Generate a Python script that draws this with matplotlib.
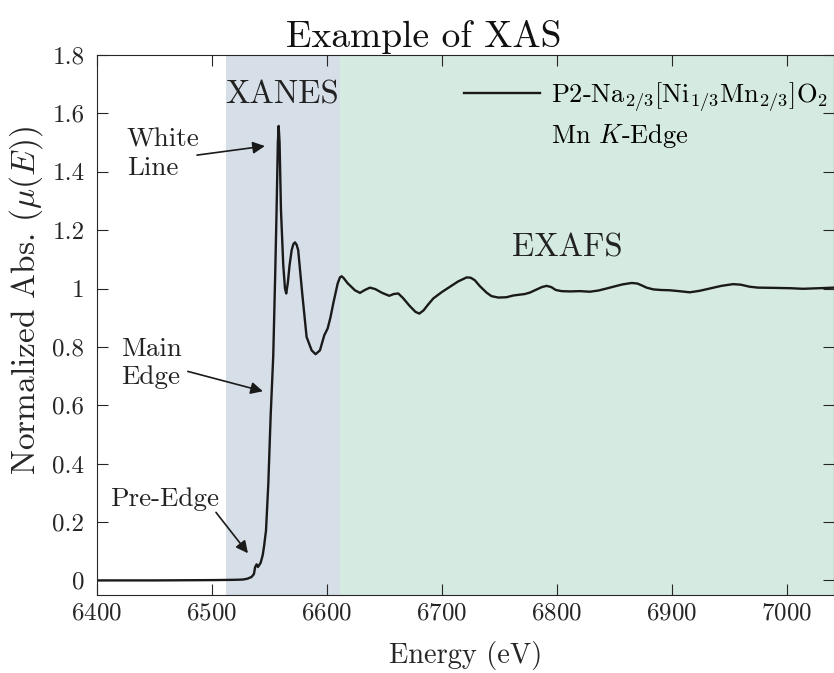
import matplotlib
matplotlib.use('Agg')
import matplotlib.pyplot as plt
from matplotlib.ticker import FuncFormatter, MultipleLocator

plt.rcParams['font.family'] = 'cmr10'
plt.rcParams['mathtext.fontset'] = 'cm'
plt.rcParams['axes.formatter.use_mathtext'] = True

# Mn K-edge spectrum, P2-Na2/3[Ni1/3Mn2/3]O2
energy = [6400, 6450, 6500, 6520, 6527, 6531, 6534.5, 6536.5, 6537.5, 6538.8,
          6540, 6541, 6542.3, 6544.1, 6545.2, 6547, 6549, 6551, 6553.3, 6555,
          6556.2, 6557.3, 6558.0, 6558.8, 6560, 6562, 6563.5, 6564.6, 6566, 6567.5,
          6569.3, 6570.8, 6572.2, 6573.6, 6575, 6578.5, 6582.3, 6586.7, 6590.1, 6593.9,
          6597.7, 6600.6, 6603, 6605.5, 6609.3, 6611.3, 6612.7, 6614.5, 6618, 6624.3,
          6628.7, 6633, 6637.4, 6642, 6648, 6654.2, 6658, 6662, 6666, 6672,
          6677, 6680.3, 6684, 6688, 6692.5, 6700, 6707, 6714, 6721.5, 6725,
          6728.7, 6733, 6738.8, 6743, 6749, 6756, 6762, 6767.8, 6772, 6776.5,
          6782, 6787, 6791, 6795, 6799, 6804, 6811.3, 6820, 6828.7, 6836,
          6843.2, 6850, 6857, 6865, 6870, 6873.6, 6878, 6883.8, 6890, 6898,
          6906, 6915.6, 6924, 6933, 6943, 6953.3, 6960, 6967.8, 6975, 6991,
          7003, 7014, 7028, 7041, 7050]
mu = [0.0, 0.0, 0.001, 0.002, 0.003, 0.006, 0.012, 0.022, 0.045, 0.055,
      0.046, 0.052, 0.060, 0.086, 0.114, 0.171, 0.331, 0.560, 0.770, 1.050,
      1.270, 1.500, 1.557, 1.500, 1.270, 1.080, 1.000, 0.983, 1.020, 1.080,
      1.131, 1.152, 1.158, 1.150, 1.131, 0.983, 0.834, 0.788, 0.775, 0.788,
      0.840, 0.863, 0.900, 0.949, 1.017, 1.038, 1.042, 1.036, 1.018, 0.994,
      0.985, 0.995, 1.003, 0.998, 0.985, 0.975, 0.981, 0.983, 0.968, 0.940,
      0.920, 0.914, 0.925, 0.945, 0.966, 0.988, 1.006, 1.024, 1.038, 1.037,
      1.028, 1.008, 0.986, 0.974, 0.969, 0.970, 0.976, 0.979, 0.981, 0.986,
      0.996, 1.005, 1.009, 1.005, 0.995, 0.991, 0.990, 0.991, 0.989, 0.993,
      1.000, 1.007, 1.014, 1.019, 1.017, 1.011, 1.003, 0.997, 0.995, 0.994,
      0.991, 0.987, 0.992, 1.000, 1.009, 1.015, 1.013, 1.006, 1.003, 1.002,
      1.001, 0.999, 1.001, 1.003, 1.003]

xanes_range = (6512, 6611)
exafs_range = (6611, 7045)

# (label, text position, arrow tail, arrow head)
features = [
    ('White\nLine', (6426, 1.462), (6487, 1.457), (6546, 1.488)),
    ('Main\nEdge', (6421, 0.744), (6479, 0.716), (6544.3, 0.648)),
    ('Pre-Edge', (6411, 0.28), (6503.5, 0.233), (6531.3, 0.093)),
]

fig = plt.figure(figsize=(8.34, 6.73), dpi=100)
ax = fig.add_axes([0.1163, 0.1159, 0.8837, 0.8024])

ax.axvspan(*xanes_range, color='#d6dee8', lw=0, zorder=0)
ax.axvspan(*exafs_range, color='#d5eae1', lw=0, zorder=0)

ax.plot(energy, mu, color='#1a1a1a', lw=1.7,
        label=r'P2-Na$_{2/3}$[Ni$_{1/3}$Mn$_{2/3}$]O$_2$')
ax.plot([], [], color='none', label=r'Mn $K$-Edge')

ax.text(6561, 1.662, 'XANES', fontsize=23.5, ha='center', va='center', color='#222222')
ax.text(6809, 1.14, 'EXAFS', fontsize=23.5, ha='center', va='center', color='#222222')

for label, pos, tail, head in features:
    ax.text(pos[0], pos[1], label, fontsize=19.5, ha='left', va='center',
            color='#222222', linespacing=1.25)
    ax.annotate('', xy=head, xytext=tail,
                arrowprops=dict(arrowstyle='-|>', color='#1a1a1a', lw=1.2,
                                mutation_scale=18, shrinkA=0, shrinkB=0))

ax.set_xlim(6400, 7041)
ax.set_ylim(-0.05, 1.8)
ax.xaxis.set_major_locator(MultipleLocator(100))
ax.yaxis.set_major_locator(MultipleLocator(0.2))
ax.yaxis.set_major_formatter(FuncFormatter(lambda v, p: '%g' % round(v, 2)))

ax.tick_params(direction='in', top=True, right=True, length=8, width=0.8,
               labelsize=18, colors='#262626')
ax.tick_params(axis='x', pad=5)
ax.tick_params(axis='y', pad=9)
for s in ax.spines.values():
    s.set_color('#262626')
    s.set_linewidth(0.8)

ax.set_xlabel('Energy (eV)', fontsize=20.5, color='#262626', labelpad=12)
ax.set_ylabel(r'Normalized Abs. $(\mu(E))$', fontsize=24, color='#262626')
ax.yaxis.set_label_coords(-0.070, 0.545)
ax.set_title('Example of XAS', fontsize=27, color='#111111', x=0.444, pad=6)

ax.legend(loc='upper right', frameon=False, fontsize=19, handlelength=2.9,
          handletextpad=0.42, borderaxespad=0.2, labelspacing=0.3,
          bbox_to_anchor=(1.014, 0.983))

fig.savefig('out.png', dpi=100)
